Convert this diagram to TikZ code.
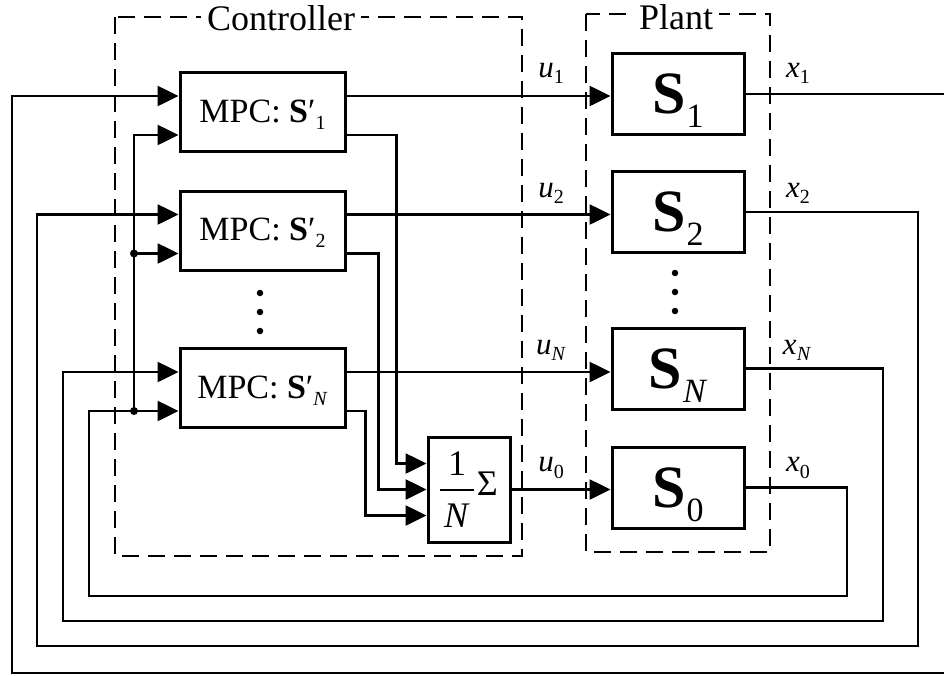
\documentclass[tikz,border=0pt]{standalone}
\usepackage{fontspec}
\setmainfont{Liberation Serif}
\usepackage{graphicx}
\usetikzlibrary{arrows.meta,calc}
\newcommand\lowsub[3]{\raisebox{#1}{\fontsize{#2}{#2}\selectfont #3}}
\newcommand\mpclabel[1]{MPC: \textbf{S}′\lowsub{-0.22em}{20}{#1}}
\newcommand\plantlabel[1]{\textbf{S}\kern1pt\lowsub{-0.24em}{34}{#1}}
\newcommand\siglabel[2]{\textit{#1}\lowsub{-0.2em}{20}{#2}}
\newcommand\myfrac[2]{\ensuremath{\vcenter{\halign{\hfil\kern4pt##\kern4pt\hfil\cr #1\cr\noalign{\kern14pt\hrule height 1.4pt\kern13pt}#2\cr}}}}
\begin{document}
\begin{tikzpicture}[x=1pt,y=-1pt,line width=2.6pt,
  arr/.style={-{Triangle[length=21pt,width=20pt]}},
  blk/.style={draw,line width=3pt,rectangle,inner sep=0pt},
  mpc/.style={blk,minimum width=165pt,minimum height=79pt,font=\fontsize{34}{34}\selectfont,text height=24pt,text depth=4pt},
  plantbox/.style={blk,minimum width=132pt,minimum height=81pt,font=\fontsize{60}{60}\selectfont,text height=41pt,text depth=2pt},
  sigl/.style={font=\fontsize{31}{31}\selectfont,inner sep=0pt},
  grpbox/.style={draw,line width=1.4pt,dash pattern=on 17pt off 9pt},
  grptitle/.style={fill=white,inner sep=6pt,font=\fontsize{36}{36}\selectfont},
  jdot/.style={circle,fill,inner sep=0pt,minimum size=8pt},
  vdot/.style={circle,fill,inner sep=0pt,minimum size=6.5pt}]
\clip (0,0) rectangle (944,675);
% group frames
\draw[grpbox] (115,17) rectangle (522,556);
\draw[grpbox] (586,14) rectangle (770,552);
\node[grptitle] (ctitle) at (281,18) {Controller};
\node[grptitle] (ptitle) at (676,17) {Plant};
% controller blocks
\node[mpc] (m1) at (262.5,112) {\mpclabel{1}};
\node[mpc] (m2) at (262.5,230.5) {\mpclabel{2}};
\node[mpc] (mN) at (262.5,388) {\mpclabel{\textit{N}}};
\node[blk,minimum width=82pt,minimum height=105pt,font=\fontsize{36}{36}\selectfont] (sum) at (469,489.5) {\myfrac{1}{\textit{N}}\kern3pt Σ};
% plant blocks
\node[plantbox] (S1) at (678,94) {\plantlabel{1}};
\node[plantbox] (S2) at (678,212) {\plantlabel{2}};
\node[plantbox] (SN) at (678,368.5) {\plantlabel{\textit{N}}};
\node[plantbox] (S0) at (678,487.5) {\plantlabel{0}};
% vertical ellipses
\node[vdot] (cd1) at (260,293) {};
\node[vdot] (cd2) at (260,312) {};
\node[vdot] (cd3) at (260,331) {};
\node[vdot] (pd1) at (675,273) {};
\node[vdot] (pd2) at (675,292) {};
\node[vdot] (pd3) at (675,311) {};
% ports
\coordinate (m1i1) at ([yshift=16pt]m1.west);
\coordinate (m1i2) at ([yshift=-23pt]m1.west);
\coordinate (m1o1) at ([yshift=16pt]m1.east);
\coordinate (m1o2) at ([yshift=-23pt]m1.east);
\coordinate (m2i1) at ([yshift=16pt]m2.west);
\coordinate (m2i2) at ([yshift=-23pt]m2.west);
\coordinate (m2o1) at ([yshift=16pt]m2.east);
\coordinate (m2o2) at ([yshift=-23pt]m2.east);
\coordinate (mNi1) at ([yshift=16pt]mN.west);
\coordinate (mNi2) at ([yshift=-23pt]mN.west);
\coordinate (mNo1) at ([yshift=16pt]mN.east);
\coordinate (mNo2) at ([yshift=-23pt]mN.east);
\coordinate (si1) at ([yshift=26pt]sum.west);
\coordinate (si2) at (sum.west);
\coordinate (si3) at ([yshift=-26pt]sum.west);
% control signals
\draw[arr] (m1o1) -- (m1o1 -| S1.west);
\draw[arr] (m2o1) -- (m2o1 -| S2.west);
\draw[arr] (mNo1) -- (mNo1 -| SN.west);
\draw[arr] (sum.east) -- (sum.east -| S0.west);
% to averaging block
\draw[arr] (m1o2) -- ++(50,0) |- (si1);
\draw[arr] (m2o2) -- ++(32,0) |- (si2);
\draw[arr] (mNo2) -- ++(19,0) |- (si3);
% feedback loops
\draw[arr] (S1.east) -| (960,673) -| (12,0 |- m1i1) -- (m1i1);
\draw[arr] (S2.east) -| (918,646) -| (37,0 |- m2i1) -- (m2i1);
\draw[arr] (SN.east) -| (883,621) -| (63,0 |- mNi1) -- (mNi1);
\draw[arr] (S0.east) -| (847,596) -| (89,0 |- mNi2) -- (mNi2);
% shared x0 distribution
\node[jdot] (jN) at (134,0 |- mNi2) {};
\node[jdot] (j2) at (134,0 |- m2i2) {};
\draw (jN.center) -- (j2.center);
\draw[arr] (j2.center) |- (m1i2);
\draw[arr] (j2.center) -- (m2i2);
% signal labels
\node[sigl] (u1) at (551,73) {\siglabel{u}{1}};
\node[sigl] (u2) at (551,193) {\siglabel{u}{2}};
\node[sigl] (uN) at (551,350) {\siglabel{u}{\textit{N}}};
\node[sigl] (u0) at (551,468) {\siglabel{u}{0}};
\node[sigl] (x1) at (798,73) {\siglabel{x}{1}};
\node[sigl] (x2) at (798,193) {\siglabel{x}{2}};
\node[sigl] (xN) at (797,350) {\siglabel{x}{\textit{N}}};
\node[sigl] (x0) at (798,468) {\siglabel{x}{0}};
\end{tikzpicture}
\end{document}
